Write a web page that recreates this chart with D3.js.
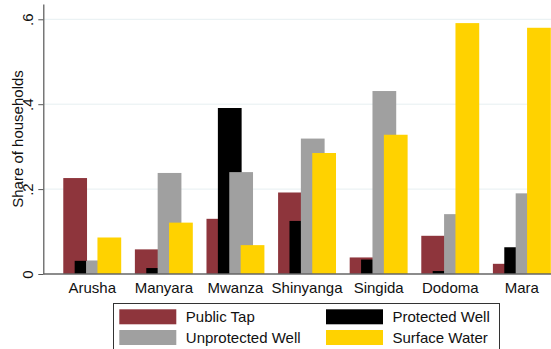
<!DOCTYPE html>
<html>
<head>
<meta charset="utf-8">
<script src="https://cdn.jsdelivr.net/npm/d3@7"></script>
<style>
  html, body { margin: 0; padding: 0; background: #fff; }
  svg { display: block; font-family: "Liberation Sans", Arial, sans-serif; }
</style>
</head>
<body>
<svg id="chart" width="551" height="349"></svg>
<script>
// Main source of household water, by region
const regions = ["Arusha", "Manyara", "Mwanza", "Shinyanga", "Singida", "Dodoma", "Mara"];
const seriesNames = ["Public Tap", "Protected Well", "Unprotected Well", "Surface Water"];
const publicTap       = [0.226, 0.058, 0.130, 0.192, 0.039, 0.090, 0.024];
const protectedWell   = [0.031, 0.014, 0.391, 0.125, 0.034, 0.007, 0.063];
const unprotectedWell = [0.031, 0.238, 0.240, 0.319, 0.431, 0.141, 0.190];
const surfaceWater    = [0.086, 0.121, 0.068, 0.285, 0.328, 0.591, 0.580];
const yTicks = [0, 0.2, 0.4, 0.6];
const yTickLabels = ["0", ".2", ".4", ".6"];
const colors = ["#8e353c", "#000000", "#a0a0a0", "#ffd200"];

const seriesValues = [publicTap, protectedWell, unprotectedWell, surfaceWater];

const svg = d3.select("#chart");
const plot = { left: 43.3, top: 4, bottom: 274, right: 570.8 };

const y = d3.scaleLinear().domain([0, 0.636]).range([plot.bottom, plot.top]);

const x = d3.scaleBand()
  .domain(regions)
  .range([plot.left, plot.right])
  .paddingInner(0.191)
  .paddingOuter(0.279);

const barW = x.bandwidth() * 0.41;
const sub = d3.scalePoint()
  .domain(seriesNames)
  .range([0, x.bandwidth() - barW]);

// gridlines
svg.append("g")
  .selectAll("line")
  .data(yTicks.filter(d => d > 0))
  .join("line")
  .attr("x1", plot.left).attr("x2", 551)
  .attr("y1", d => y(d)).attr("y2", d => y(d))
  .attr("stroke", "#e6eff1").attr("stroke-width", 1);

// bars, drawn series by series so later series sit on top
seriesNames.forEach((name, si) => {
  svg.append("g")
    .selectAll("rect")
    .data(regions.map((r, i) => ({ region: r, value: seriesValues[si][i] })))
    .join("rect")
    .attr("x", d => x(d.region) + sub(name))
    .attr("width", barW)
    .attr("y", d => y(d.value))
    .attr("height", d => y(0) - y(d.value))
    .attr("fill", colors[si]);
});

// y axis
const yAxis = d3.axisLeft(y)
  .tickValues(yTicks)
  .tickFormat((d, i) => yTickLabels[i])
  .tickSize(5)
  .tickSizeOuter(0);
const ya = svg.append("g")
  .attr("transform", `translate(${plot.left},0)`)
  .call(yAxis);
ya.select(".domain").attr("stroke", "#555").attr("stroke-width", 1.2);
ya.selectAll(".tick line").attr("stroke", "#555");
ya.selectAll(".tick text")
  .attr("font-size", 15)
  .attr("fill", "#111")
  .attr("text-anchor", "middle")
  .attr("x", null).attr("dy", null)
  .attr("transform", "translate(-10.5,0) rotate(-90)");

// zero line
svg.append("line")
  .attr("x1", plot.left).attr("x2", 551)
  .attr("y1", y(0)).attr("y2", y(0))
  .attr("stroke", "#666").attr("stroke-width", 1.4);

// axis title
svg.append("text")
  .attr("transform", `translate(23,${(plot.top + plot.bottom) / 2}) rotate(-90)`)
  .attr("text-anchor", "middle")
  .attr("font-size", 15)
  .attr("fill", "#111")
  .text("Share of households");

// category labels
svg.append("g")
  .selectAll("text")
  .data(regions)
  .join("text")
  .attr("x", d => x(d) + x.bandwidth() / 2)
  .attr("y", 293)
  .attr("text-anchor", "middle")
  .attr("font-size", 15)
  .attr("fill", "#111")
  .text(d => d);

// legend
const legend = svg.append("g");
legend.append("rect")
  .attr("x", 113.5).attr("y", 303.5)
  .attr("width", 386).attr("height", 60)
  .attr("fill", "#fff").attr("stroke", "#333").attr("stroke-width", 1);

const legendPos = [
  { sx: 119.3, sy: 309.3 },
  { sx: 326, sy: 309.3 },
  { sx: 119.3, sy: 330 },
  { sx: 326, sy: 330 }
];
seriesNames.forEach((name, i) => {
  const p = legendPos[i];
  legend.append("rect")
    .attr("x", p.sx).attr("y", p.sy)
    .attr("width", 57).attr("height", 15)
    .attr("fill", colors[i]);
  legend.append("text")
    .attr("x", p.sx + 66.5).attr("y", p.sy + 13)
    .attr("font-size", 15)
    .attr("fill", "#111")
    .text(name);
});
</script>
</body>
</html>
